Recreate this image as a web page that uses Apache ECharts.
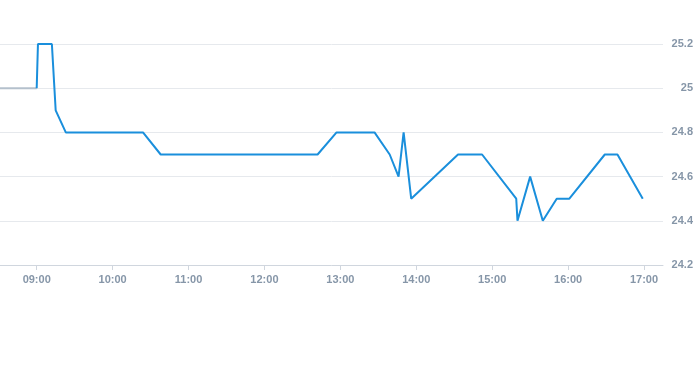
<!DOCTYPE html>
<html><head><meta charset="utf-8">
<script src="https://cdn.jsdelivr.net/npm/echarts@6/dist/echarts.min.js"></script>
<style>html,body{margin:0;padding:0;background:#fff}#c{width:693px;height:365px}</style>
</head><body><div id="c"></div>
<script>
var day = '2024-01-02 ';
var preTimes = ['08:31', '09:00'];
var preValues = [25, 25];
var times = ['09:00','09:01','09:12','09:15','09:23','10:24','10:38','12:42','12:57','13:27','13:39','13:46','13:50','13:56','14:33','14:52','15:19','15:20','15:30','15:40','15:51','16:01','16:29','16:39','16:59'];
var values = [25, 25.2, 25.2, 24.9, 24.8, 24.8, 24.7, 24.7, 24.8, 24.8, 24.7, 24.6, 24.8, 24.5, 24.7, 24.7, 24.5, 24.4, 24.6, 24.4, 24.5, 24.5, 24.7, 24.7, 24.5];
var yTicks = [24.2, 24.4, 24.6, 24.8, 25, 25.2];

function pairs(t, v){ return t.map(function(x,i){ return [day + x, v[i]]; }); }

var chart = echarts.init(document.getElementById('c'));
chart.setOption({
  animation: false,
  grid: { left: 0, right: 30, top: 44, bottom: 100, containLabel: false, outerBoundsMode: 'none' },
  xAxis: {
    type: 'time',
    min: day + '08:31', max: day + '17:15',
    minInterval: 3600000, maxInterval: 3600000,
    axisLine: { lineStyle: { color: '#d0d6de' } },
    axisTick: { show: true, length: 5, lineStyle: { color: '#d0d6de' } },
    splitLine: { show: false },
    axisLabel: {
      color: '#8696a8', fontSize: 11, fontWeight: 'bold', fontFamily: 'Liberation Sans, Arial, sans-serif',
      margin: 9, showMinLabel: false, showMaxLabel: false,
      formatter: function(v){ var d = new Date(v); var h = d.getHours(), m = d.getMinutes(); return (h<10?'0':'')+h+':'+(m<10?'0':'')+m; }
    }
  },
  yAxis: {
    type: 'value', position: 'right',
    min: yTicks[0], max: yTicks[yTicks.length-1], interval: 0.2,
    axisLine: { show: false }, axisTick: { show: false },
    splitLine: { lineStyle: { color: '#e6e9ed' } },
    axisLabel: {
      color: '#8696a8', fontSize: 11, fontWeight: 'bold', fontFamily: 'Liberation Sans, Arial, sans-serif',
      align: 'right', margin: 30,
      formatter: function(v){ return String(Math.round(v*10)/10); }
    }
  },
  series: [
    { type: 'line', data: pairs(preTimes, preValues), showSymbol: false, symbol: 'none',
      lineStyle: { color: '#b4c0cc', width: 2 }, silent: true },
    { type: 'line', data: pairs(times, values), showSymbol: false, symbol: 'none',
      lineStyle: { color: '#1a8fdc', width: 2 } }
  ]
});
</script></body></html>
